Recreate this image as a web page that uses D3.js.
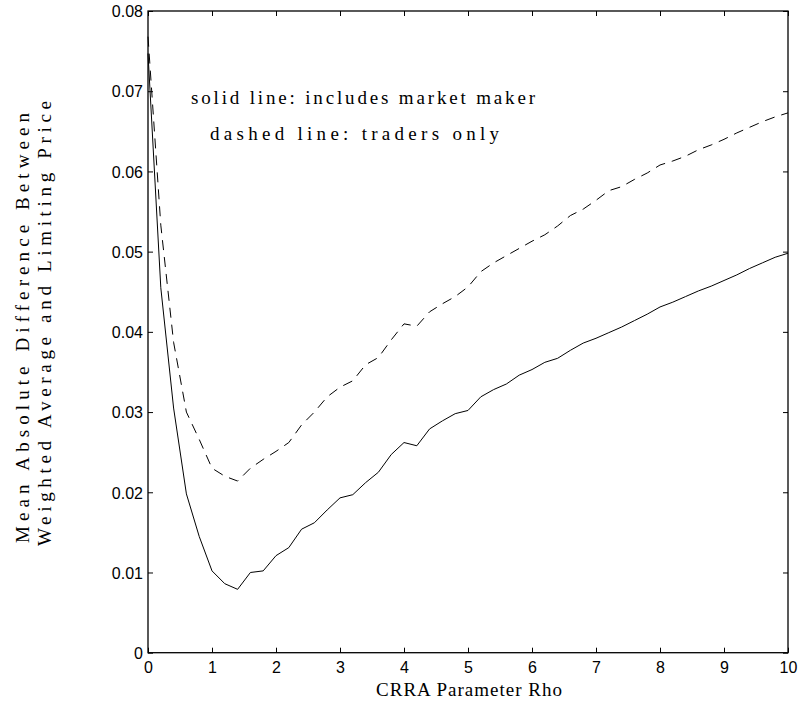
<!DOCTYPE html>
<html>
<head>
<meta charset="utf-8">
<script src="https://cdn.jsdelivr.net/npm/d3@7"></script>
<style>
  html, body { margin: 0; padding: 0; background: #fff; }
  svg { display: block; }
  .tick text { font-family: "Liberation Sans", Arial, sans-serif; font-size: 16px; fill: #000; }
  .lbl { font-family: "Liberation Serif", "DejaVu Serif", serif; font-size: 19px; fill: #000; }
</style>
</head>
<body>
<svg id="chart" width="799" height="705"></svg>
<script>
// ---- data ----
const rho = [0, 0.2, 0.4, 0.6, 0.8, 1.0, 1.2, 1.4, 1.6, 1.8, 2.0, 2.2, 2.4, 2.6, 2.8, 3.0, 3.2, 3.4, 3.6, 3.8,
             4.0, 4.2, 4.4, 4.6, 4.8, 5.0, 5.2, 5.4, 5.6, 5.8, 6.0, 6.2, 6.4, 6.6, 6.8, 7.0, 7.2, 7.4, 7.6, 7.8,
             8.0, 8.2, 8.4, 8.6, 8.8, 9.0, 9.2, 9.4, 9.6, 9.8, 10.0];
const withMarketMaker = [0.0747, 0.0455, 0.0305, 0.0198, 0.0145, 0.0102, 0.0086, 0.0079, 0.0100, 0.0102,
                         0.0121, 0.0131, 0.0154, 0.0162, 0.0178, 0.0193, 0.0197, 0.0212, 0.0225, 0.0247,
                         0.0262, 0.0258, 0.0279, 0.0289, 0.0298, 0.0302, 0.0319, 0.0328, 0.0335, 0.0346,
                         0.0353, 0.0362, 0.0367, 0.0377, 0.0386, 0.0392, 0.0399, 0.0406, 0.0414, 0.0422,
                         0.0431, 0.0437, 0.0444, 0.0451, 0.0457, 0.0464, 0.0471, 0.0479, 0.0486, 0.0493, 0.0498];
const tradersOnly = [0.0768, 0.0533, 0.0387, 0.0300, 0.0266, 0.0230, 0.0220, 0.0214, 0.0230, 0.0241,
                     0.0251, 0.0262, 0.0284, 0.0300, 0.0319, 0.0331, 0.0339, 0.0359, 0.0368, 0.0390,
                     0.0410, 0.0407, 0.0425, 0.0435, 0.0444, 0.0456, 0.0475, 0.0486, 0.0495, 0.0504,
                     0.0513, 0.0521, 0.0532, 0.0545, 0.0553, 0.0564, 0.0576, 0.0581, 0.0590, 0.0598,
                     0.0608, 0.0613, 0.0619, 0.0627, 0.0633, 0.0640, 0.0648, 0.0655, 0.0662, 0.0668, 0.0673];
const xTicks = [0, 1, 2, 3, 4, 5, 6, 7, 8, 9, 10];
const yTicks = [0, 0.01, 0.02, 0.03, 0.04, 0.05, 0.06, 0.07, 0.08];
const xTickLabels = ["0", "1", "2", "3", "4", "5", "6", "7", "8", "9", "10"];
const yTickLabels = ["0", "0.01", "0.02", "0.03", "0.04", "0.05", "0.06", "0.07", "0.08"];
const xTitle = "CRRA Parameter Rho";
const yTitle = ["Mean Absolute Difference Between", "Weighted Average and Limiting Price"];
const notes = ["solid line: includes market maker", "dashed line: traders only"];

// ---- layout ----
const pL = 148, pT = 11, pR = 788, pB = 652.7;
const svg = d3.select("#chart");
const x = d3.scaleLinear().domain([0, 10]).range([pL, pR]);
const y = d3.scaleLinear().domain([0, 0.08]).range([pB, pT]);

// axes (inward ticks on all four sides)
const gB = svg.append("g").attr("transform", `translate(0,${pB})`)
  .call(d3.axisBottom(x).tickValues(xTicks).tickFormat((d, i) => xTickLabels[i])
        .tickSizeInner(-5).tickSizeOuter(0).tickPadding(9));
const gL = svg.append("g").attr("transform", `translate(${pL},0)`)
  .call(d3.axisLeft(y).tickValues(yTicks).tickFormat((d, i) => yTickLabels[i])
        .tickSizeInner(-5).tickSizeOuter(0).tickPadding(5));
const gT = svg.append("g").attr("transform", `translate(0,${pT})`)
  .call(d3.axisTop(x).tickValues(xTicks).tickFormat("").tickSizeInner(-5).tickSizeOuter(0));
const gR = svg.append("g").attr("transform", `translate(${pR},0)`)
  .call(d3.axisRight(y).tickValues(yTicks).tickFormat("").tickSizeInner(-5).tickSizeOuter(0));
[gB, gL, gT, gR].forEach(g => {
  g.select(".domain").remove();
  g.selectAll(".tick line").attr("stroke", "#000").attr("stroke-width", 1);
});
gL.selectAll(".tick text").attr("dy", "0.36em");

// frame
svg.append("rect").attr("x", pL).attr("y", pT)
  .attr("width", pR - pL).attr("height", pB - pT)
  .attr("fill", "none").attr("stroke", "#000").attr("stroke-width", 1.3);

// lines
const line = vals => d3.line().x((d, i) => x(rho[i])).y(d => y(d))(vals);
svg.append("path").attr("d", line(withMarketMaker))
  .attr("fill", "none").attr("stroke", "#000").attr("stroke-width", 1);
svg.append("path").attr("d", line(tradersOnly))
  .attr("fill", "none").attr("stroke", "#000").attr("stroke-width", 1)
  .attr("stroke-dasharray", "10,7");

// annotations
svg.append("text").attr("class", "lbl").attr("x", 191).attr("y", 104)
  .attr("textLength", 344).attr("lengthAdjust", "spacing").text(notes[0]);
svg.append("text").attr("class", "lbl").attr("x", 210).attr("y", 140)
  .attr("textLength", 289).attr("lengthAdjust", "spacing").text(notes[1]);

// axis titles
svg.append("text").attr("class", "lbl").attr("x", 376).attr("y", 696)
  .attr("textLength", 186).attr("lengthAdjust", "spacing").text(xTitle);
svg.append("text").attr("class", "lbl")
  .attr("transform", "translate(29,543) rotate(-90)")
  .attr("textLength", 430).attr("lengthAdjust", "spacing").text(yTitle[0]);
svg.append("text").attr("class", "lbl")
  .attr("transform", "translate(51,546) rotate(-90)")
  .attr("textLength", 445).attr("lengthAdjust", "spacing").text(yTitle[1]);
</script>
</body>
</html>
